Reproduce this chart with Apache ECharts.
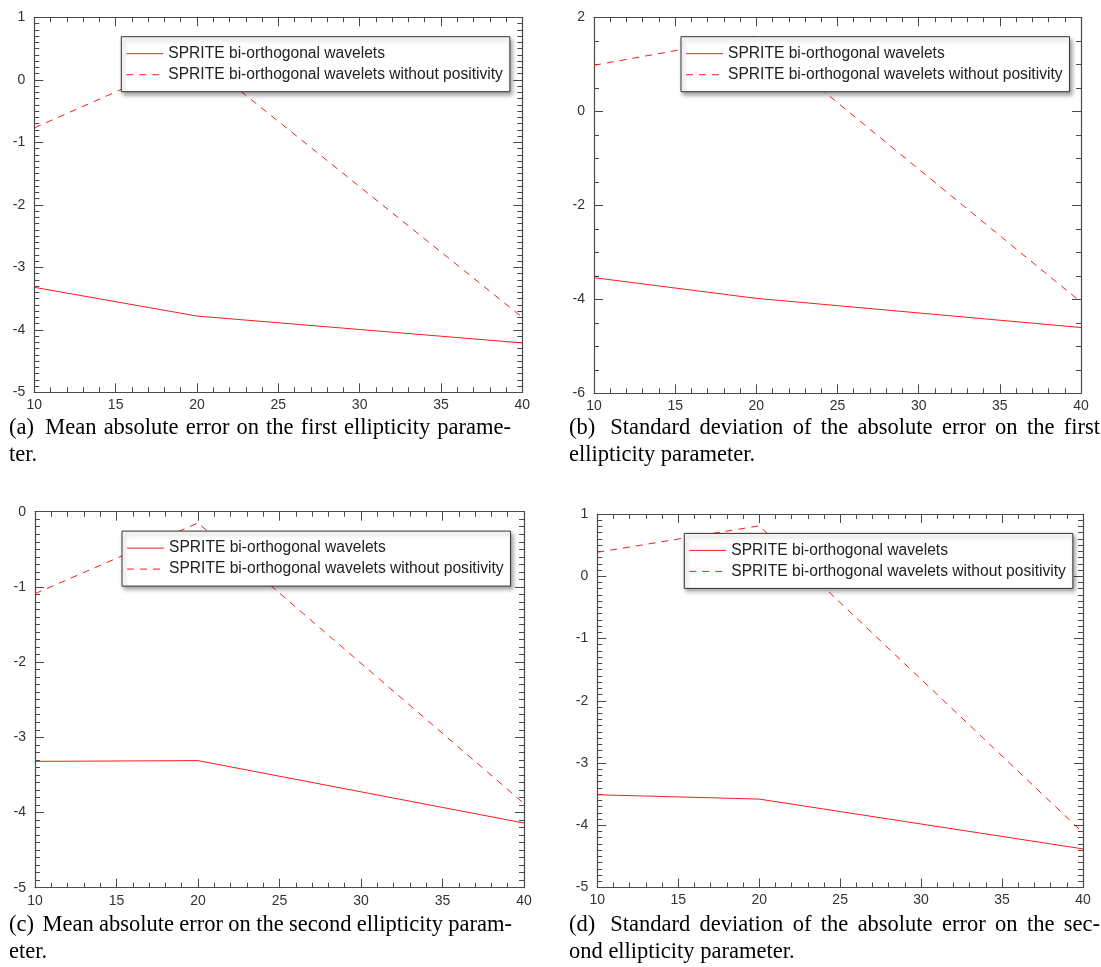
<!DOCTYPE html>
<html>
<head>
<meta charset="utf-8">
<script src="https://cdn.jsdelivr.net/npm/echarts@6/dist/echarts.min.js"></script>
<style>
html,body{margin:0;padding:0;background:#fff;}
#chart{width:1101px;height:967px;}
</style>
</head>
<body>
<div id="chart"></div>
<script>
// ---- data ----
const xValues = [10, 20, 40];
const seriesNames = ['SPRITE bi-orthogonal wavelets', 'SPRITE bi-orthogonal wavelets without positivity'];

const aSolid  = [-3.32, -3.78, -4.21];
const aDashed = [-0.77, 0.38, -3.80];
const bSolid  = [-3.54, -3.98, -4.60];
const bDashed = [0.98, 1.60, -4.06];
const cSolid  = [-3.32, -3.31, -4.14];
const cDashed = [-1.09, -0.15, -3.88];
const dSolid  = [-3.51, -3.58, -4.38];
const dDashed = [0.385, 0.81, -4.12];

const yRanges = [[-5, 1, 1, 10], [-6, 2, 2, 4], [-5, 0, 1, 10], [-5, 1, 1, 10]];
const xRange = [10, 40, 5, 5];

const captions = [
  ['(a)', 'Mean absolute error on the first ellipticity parame-', 'ter.'],
  ['(b)', 'Standard deviation of the absolute error on the first', 'ellipticity parameter.'],
  ['(c)', 'Mean absolute error on the second ellipticity param-', 'eter.'],
  ['(d)', 'Standard deviation of the absolute error on the sec-', 'ond ellipticity parameter.']
];

// ---- layout ----
const grids = [
  {left: 34.3, top: 17.3, width: 488, height: 375},
  {left: 594, top: 17.3, width: 487, height: 376},
  {left: 35, top: 511.7, width: 489, height: 376},
  {left: 597.3, top: 514, width: 485.7, height: 373.5}
];
const capPos = [
  {x: 9, w: 502, y1: 428, y2: 455},
  {x: 569, w: 531, y1: 428, y2: 455},
  {x: 9, w: 503, y1: 925, y2: 952},
  {x: 569, w: 531, y1: 925, y2: 952}
];

const frameColor = '#4a4a4a';
const labelFont = 'Liberation Sans';
const red = '#ff1a1a';

function pairs(ys) { return xValues.map((x, i) => [x, ys[i]]); }
const panelData = [[aSolid, aDashed], [bSolid, bDashed], [cSolid, cDashed], [dSolid, dDashed]];

const xAxes = [], yAxes = [], series = [], legends = [], graphics = [];

grids.forEach((g, i) => {
  const [ymin, ymax, yint, yminor] = yRanges[i];
  const common = (pos, showLabel, isX) => ({
    gridIndex: i,
    type: 'value',
    position: pos,
    min: isX ? xRange[0] : ymin,
    max: isX ? xRange[1] : ymax,
    interval: isX ? xRange[2] : yint,
    splitLine: {show: false},
    axisLine: {show: true, onZero: false, lineStyle: {color: frameColor, width: 1.2}},
    axisTick: {show: true, inside: true, length: 9, lineStyle: {color: frameColor, width: 1}},
    minorTick: {show: true, splitNumber: isX ? xRange[3] : yminor, length: 5, lineStyle: {color: frameColor, width: 1}},
    axisLabel: {
      show: showLabel, color: '#333', fontFamily: labelFont, fontSize: 14,
      margin: isX ? 6 : 9
    }
  });
  xAxes.push(common('bottom', true, true));
  xAxes.push(common('top', false, true));
  yAxes.push(common('left', true, false));
  yAxes.push(common('right', false, false));

  const [solid, dashed] = panelData[i];
  series.push({
    name: seriesNames[0], type: 'line', xAxisIndex: 2 * i, yAxisIndex: 2 * i,
    data: pairs(solid), symbol: 'none', showSymbol: false,
    lineStyle: {color: red, width: 1, type: 'solid'}, itemStyle: {color: red}
  });
  series.push({
    name: seriesNames[1], type: 'line', xAxisIndex: 2 * i, yAxisIndex: 2 * i,
    data: pairs(dashed), symbol: 'none', showSymbol: false,
    lineStyle: {color: red, width: 1, type: [7, 6]}, itemStyle: {color: red}
  });

  legends.push({
    data: seriesNames,
    orient: 'vertical',
    left: g.left + 87,
    top: g.top + 19.4,
    itemWidth: 37, itemHeight: 14, itemGap: 5,
    padding: [9, 7, 9, 4.5],
    backgroundColor: '#fff',
    borderColor: '#333', borderWidth: 1,
    shadowColor: 'rgba(0,0,0,0.35)', shadowBlur: 4, shadowOffsetX: 2, shadowOffsetY: 3,
    selectedMode: false,
    itemStyle: {color: 'rgba(0,0,0,0)', borderColor: 'rgba(0,0,0,0)', borderWidth: 0, opacity: 0},
    lineStyle: {width: 1},
    textStyle: {fontFamily: labelFont, fontSize: 15.6, color: '#222', padding: [0, 0, 0, 0]}
  });
});

// ---- captions (justified first line) ----
const capFontSize = 22.5;
const capFont = capFontSize + 'px "Liberation Serif"';
const mctx = document.createElement('canvas').getContext('2d');
mctx.font = capFont;
captions.forEach((c, i) => {
  const p = capPos[i];
  const words = [c[0]].concat(c[1].split(' '));
  const widths = words.map(w => mctx.measureText(w).width);
  const total = widths.reduce((s, v) => s + v, 0);
  const n = words.length - 1;
  const gap = (p.w - total) / (n + 0.6);
  let x = p.x;
  words.forEach((w, k) => {
    graphics.push({
      type: 'text', x: x, y: p.y1,
      style: {text: w, fontSize: capFontSize, fontFamily: 'Liberation Serif', fill: '#000',
              align: 'left', verticalAlign: 'middle'}
    });
    x += widths[k] + (k === 0 ? gap * 1.6 : gap);
  });
  graphics.push({
    type: 'text', x: p.x, y: p.y2,
    style: {text: c[2], fontSize: capFontSize, fontFamily: 'Liberation Serif', fill: '#000',
            align: 'left', verticalAlign: 'middle'}
  });
});

const chart = echarts.init(document.getElementById('chart'), null, {renderer: 'canvas'});
chart.setOption({
  animation: false,
  backgroundColor: '#fff',
  grid: grids.map(g => Object.assign({containLabel: false}, g)),
  xAxis: xAxes,
  yAxis: yAxes,
  legend: legends,
  series: series,
  graphic: graphics
});
</script>
</body>
</html>
